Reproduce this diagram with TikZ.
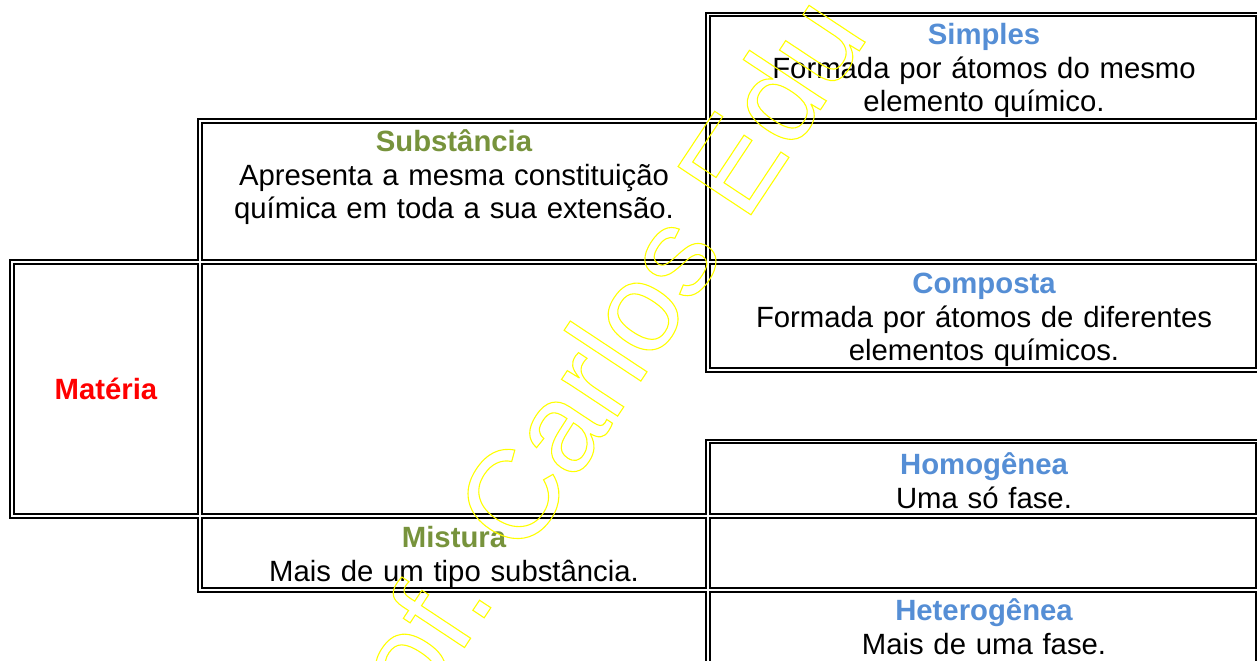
\documentclass[tikz,border=0pt]{standalone}
\usepackage{fontspec}
\setmainfont{Liberation Sans}
\usepackage{tikz}
\definecolor{kindblue}{HTML}{558ED5}
\definecolor{kindgreen}{HTML}{77933C}
\definecolor{markyellow}{HTML}{FFFF00}
\tikzset{
    cell/.style={rectangle,draw=none,inner sep=0pt,align=center,font=\fontsize{14.65}{16.75}\selectfont},
    widecell/.style={cell,text width=262pt},
    midcell/.style={cell,text width=240pt},
    border/.style={draw=black,line width=0.85pt,double=white,double distance=0.9pt},
    watermark/.style={inner sep=0pt,text=markyellow,font=\fontsize{63.5}{70}\selectfont},
    }
\newcommand{\kind}[2]{\textcolor{#1}{\bfseries #2}}
\newcommand{\outlined}[1]{\special{pdf:literal direct 1 Tr 0.55 w}#1\special{pdf:literal direct 0 Tr}}

\begin{document}
\begin{tikzpicture}[x=0.5pt,y=-0.5pt]
	\useasboundingbox (0,0) rectangle (1257,660);

	% table borders
	\draw[border] (708,14.5) rectangle (1258,121)
		(708,121) rectangle (1258,262)
		(200,121) rectangle (708,262)
		(12,262) rectangle (200,516)
		(708,262) rectangle (1258,370)
		(708,441.5) rectangle (1258,516)
		(200,516) rectangle (708,590)
		(708,516) rectangle (1258,590)
		(708,590) rectangle (1258,690);

	\node[cell,anchor=base,text=red] (materia) at (106,399.5) {\bfseries Matéria};

	\node[midcell,anchor=base] (substancia) at (454,151.5)
		{\kind{kindgreen}{Substância}\\Apresenta a mesma constituição\\química em toda a sua extensão.};
	\node[midcell,anchor=base] (mistura) at (454,547.5)
		{\kind{kindgreen}{Mistura}\\Mais de um tipo substância.};

	\node[widecell,anchor=base] (simples) at (984,44.5)
		{\kind{kindblue}{Simples}\\Formada por átomos do mesmo\\elemento químico.};
	\node[widecell,anchor=base] (composta) at (984,293.5)
		{\kind{kindblue}{Composta}\\Formada por átomos de diferentes\\elementos químicos.};
	\node[widecell,anchor=base] (homogenea) at (984,474.5)
		{\kind{kindblue}{Homogênea}\\Uma só fase.};
	\node[widecell,anchor=base] (heterogenea) at (984,620.5)
		{\kind{kindblue}{Heterogênea}\\Mais de uma fase.};

	% watermark on top
	\node[watermark,rotate=56.5,anchor=base west] (mark) at (349,822) {\outlined{Prof. Carlos Edu}};
\end{tikzpicture}
\end{document}
